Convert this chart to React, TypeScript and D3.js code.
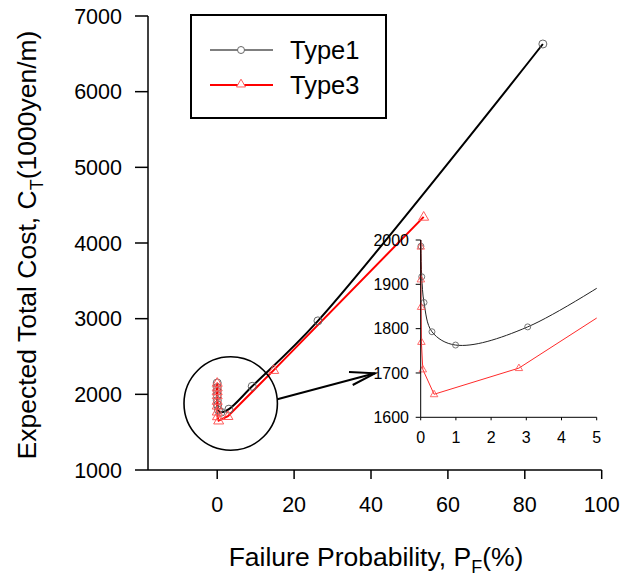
import React from "react";
import * as d3 from "d3";

// ---- data ----
const type1X = [0.0, 0.0, 0.001, 0.005, 0.03, 0.094, 0.32, 0.99, 3.04, 9.1, 26.2, 84.7];
const type1Y = [2150, 2090, 2040, 1986, 1917, 1859, 1793, 1763, 1804, 2106, 2971, 6630];
const type3X = [0.0, 0.0, 0.0, 0.001, 0.005, 0.01, 0.02, 0.06, 0.38, 2.79, 14.7, 53.7];
const type3Y = [2150, 2090, 2040, 1985, 1911, 1849, 1770, 1708, 1652, 1711, 2320, 4345];
const mainXTicks = [0, 20, 40, 60, 80, 100];
const mainYTicks = [1000, 2000, 3000, 4000, 5000, 6000, 7000];
const insetXTicks = [0, 1, 2, 3, 4, 5];
const insetYTicks = [1600, 1700, 1800, 1900, 2000];
const seriesNames = ["Type1", "Type3"];

type P = [number, number];
const t1: P[] = type1X.map((x, i) => [x, type1Y[i]]);
const t3: P[] = type3X.map((x, i) => [x, type3Y[i]]);

const FONT = "'Liberation Sans', Arial, sans-serif";

function tri(cx: number, cy: number, s: number) {
  const h = s * 0.866;
  return `M${cx},${cy - h * 0.62}L${cx + s / 2},${cy + h * 0.38}L${cx - s / 2},${cy + h * 0.38}Z`;
}

export default function App() {
  // main scales
  const x = d3.scaleLinear().domain([-18, 100]).range([148, 601.7]);
  const y = d3.scaleLinear().domain([1000, 7000]).range([470, 16]);
  // inset scales
  const ix = d3.scaleLinear().domain([0, 5]).range([420.7, 596.7]);
  const iy = d3.scaleLinear().domain([1600, 2000]).range([417.3, 240]);

  const mainLine1 = d3.line<P>().x((d) => x(d[0])).y((d) => y(d[1])).curve(d3.curveCatmullRom.alpha(0.5));
  const mainLine3 = d3.line<P>().x((d) => x(d[0])).y((d) => y(d[1]));
  const inLine1 = d3.line<P>().x((d) => ix(d[0])).y((d) => iy(d[1])).curve(d3.curveCatmullRom.alpha(0.5));
  const inLine3 = d3.line<P>().x((d) => ix(d[0])).y((d) => iy(d[1]));

  const inT1 = t1.filter((d) => d[0] <= 5 && d[1] <= 2000 && d[1] >= 1600);
  const inT3 = t3.filter((d) => d[0] <= 5 && d[1] <= 2000 && d[1] >= 1600);

  return (
    <svg
      width={632}
      height={578}
      style={{ position: "absolute", left: 0, top: 0, background: "#fff" }}
      fontFamily={FONT}
    >
      <defs>
        <clipPath id="insetClip">
          <rect x={ix(0) - 2} y={iy(2000)} width={ix(5) - ix(0) + 2} height={iy(1600) - iy(2000)} />
        </clipPath>
      </defs>

      {/* main axes */}
      <line x1={x(-18)} x2={x(-18)} y1={y(7000)} y2={y(1000)} stroke="#000" strokeWidth={1.5} />
      <line x1={x(-18)} x2={x(100)} y1={y(1000)} y2={y(1000)} stroke="#000" strokeWidth={1.5} />
      {mainYTicks.map((t) => (
        <g key={"yt" + t}>
          <line x1={x(-18) - 13} x2={x(-18)} y1={y(t)} y2={y(t)} stroke="#000" strokeWidth={1.5} />
          <text x={122} y={y(t)} dy="0.36em" textAnchor="end" fontSize={21.5}>
            {t}
          </text>
        </g>
      ))}
      {mainXTicks.map((t) => (
        <g key={"xt" + t}>
          <line x1={x(t)} x2={x(t)} y1={y(1000)} y2={y(1000) + 9} stroke="#000" strokeWidth={1.5} />
          <text x={x(t)} y={512} textAnchor="middle" fontSize={21.5}>
            {t}
          </text>
        </g>
      ))}

      {/* axis titles */}
      <text x={376} y={565.5} textAnchor="middle" fontSize={26.5}>
        Failure Probability, P<tspan fontSize={18} dy={7}>F</tspan>
        <tspan dy={-7}>(%)</tspan>
      </text>
      <text transform="translate(36,245) rotate(-90)" textAnchor="middle" fontSize={26.5}>
        Expected Total Cost, C<tspan fontSize={18} dy={7}>T</tspan>
        <tspan dy={-7}>(1000yen/m)</tspan>
      </text>

      {/* main series */}
      <path d={mainLine1(t1) || ""} fill="none" stroke="#000" strokeWidth={2} />
      <path d={mainLine3(t3) || ""} fill="none" stroke="#ff0000" strokeWidth={2} />
      {t1.map((d, i) => (
        <circle key={"c" + i} cx={x(d[0])} cy={y(d[1])} r={4} fill="none" stroke="#666" strokeWidth={1} />
      ))}
      {t3.map((d, i) => (
        <path key={"t" + i} d={tri(x(d[0]), y(d[1]), 10)} fill="none" stroke="#ff5a5a" strokeWidth={1} />
      ))}

      {/* magnifier circle and arrow */}
      <circle cx={230.7} cy={403.5} r={46.7} fill="none" stroke="#000" strokeWidth={1.6} />
      <line x1={277.3} y1={399.3} x2={375} y2={373.3} stroke="#000" strokeWidth={2} />
      <polyline points="349,372 375,373.3 352.7,385" fill="none" stroke="#000" strokeWidth={2} />

      {/* inset */}
      <rect x={ix(0) - 1} y={iy(2000)} width={ix(5) - ix(0)} height={iy(1600) - iy(2000)} fill="#fff" />
      <g clipPath="url(#insetClip)">
        <path d={inLine1(t1.filter((d) => d[0] <= 12)) || ""} fill="none" stroke="#222" strokeWidth={1} />
        <path d={inLine3(t3.filter((d) => d[0] <= 20)) || ""} fill="none" stroke="#ff2a2a" strokeWidth={1} />
      </g>
      {inT1.map((d, i) => (
        <circle key={"ic" + i} cx={ix(d[0])} cy={iy(d[1])} r={3} fill="none" stroke="#666" strokeWidth={0.9} />
      ))}
      {inT3.map((d, i) => (
        <path key={"it" + i} d={tri(ix(d[0]), iy(d[1]), 7.5)} fill="none" stroke="#ff5a5a" strokeWidth={0.9} />
      ))}
      <line x1={ix(0)} x2={ix(0)} y1={iy(2000)} y2={iy(1600)} stroke="#000" strokeWidth={1} />
      <line x1={ix(0)} x2={ix(5)} y1={iy(1600)} y2={iy(1600)} stroke="#000" strokeWidth={1} />
      {insetYTicks.map((t) => (
        <g key={"iyt" + t}>
          <line x1={ix(0) - 5} x2={ix(0)} y1={iy(t)} y2={iy(t)} stroke="#000" strokeWidth={1} />
          <text x={409} y={iy(t)} dy="0.36em" textAnchor="end" fontSize={16}>
            {t}
          </text>
        </g>
      ))}
      {insetXTicks.map((t) => (
        <g key={"ixt" + t}>
          <line x1={ix(t)} x2={ix(t)} y1={iy(1600)} y2={iy(1600) + 3} stroke="#000" strokeWidth={1} />
          <text x={ix(t)} y={443} textAnchor="middle" fontSize={16}>
            {t}
          </text>
        </g>
      ))}

      {/* legend */}
      <rect x={191} y={15} width={195} height={103} fill="#fff" stroke="#000" strokeWidth={2} />
      <line x1={210} x2={273} y1={50} y2={50} stroke="#000" strokeWidth={1.2} />
      <circle cx={241} cy={50} r={3.5} fill="#fff" stroke="#666" strokeWidth={1} />
      <text x={290} y={59.3} fontSize={25.5}>
        {seriesNames[0]}
      </text>
      <line x1={210} x2={273} y1={85} y2={85} stroke="#ff0000" strokeWidth={2} />
      <path d={tri(241, 84, 9)} fill="#fff" stroke="#ff5a5a" strokeWidth={1} />
      <text x={290} y={93.5} fontSize={25.5}>
        {seriesNames[1]}
      </text>
    </svg>
  );
}
